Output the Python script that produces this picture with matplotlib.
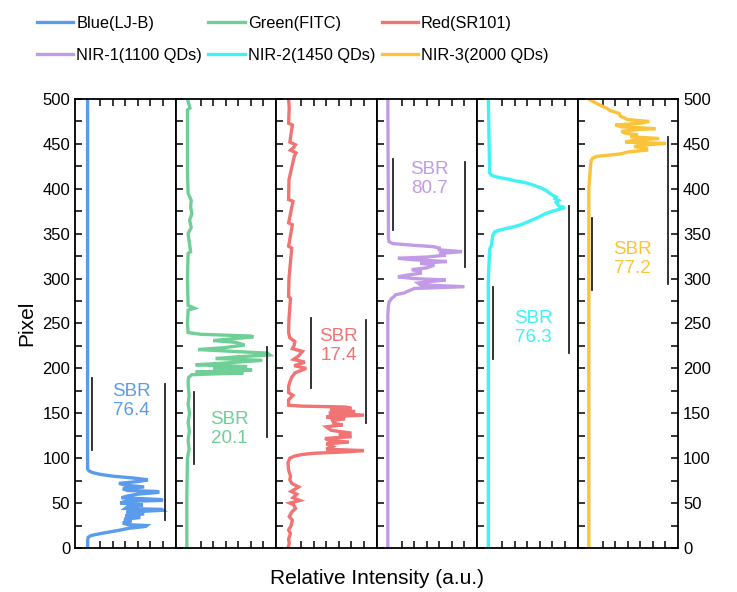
import matplotlib
matplotlib.use("Agg")
import matplotlib.pyplot as plt
from matplotlib.ticker import MultipleLocator, FixedLocator

plt.rcParams["font.family"] = ["Liberation Sans", "DejaVu Sans"]

# ── data: pixel position (y) and relative intensity (x) per channel ─────────
labels = ["Blue(LJ-B)", "Green(FITC)", "Red(SR101)",
          "NIR-1(1100 QDs)", "NIR-2(1450 QDs)", "NIR-3(2000 QDs)"]
colors = ["#5A9CEB", "#6FCF97", "#F27373", "#C19BE6", "#40F2F2", "#FAC33A"]
sbr_values = ["76.4", "20.1", "17.4", "80.7", "76.3", "77.2"]

blue_px = [0, 8, 12, 14, 16, 18, 20, 22, 24, 25, 26, 28, 30, 32, 34, 36, 38, 40,
           42, 43, 44, 46, 48, 50, 52, 53, 54, 56, 58, 60, 62, 63, 64, 66, 68,
           70, 72, 74, 76, 78, 80, 82, 84, 86, 88, 500]
blue_int = [1.0, 1.0, 1.05, 1.3, 2.0, 2.8, 3.6, 4.3, 5.6, 5.7, 4.2, 3.8, 4.5,
            3.9, 5.2, 4.0, 5.5, 4.1, 7.0, 6.9, 4.0, 4.2, 5.4, 3.6, 4.0, 7.0,
            6.8, 3.7, 4.2, 5.0, 6.7, 6.5, 4.2, 3.8, 5.5, 4.0, 3.5, 5.0, 5.8,
            4.6, 3.0, 2.0, 1.4, 1.1, 1.0, 1.0]

green_px = [0, 60, 100, 110, 120, 130, 140, 150, 160, 170, 180, 186, 190, 193,
            195, 196, 198, 200, 202, 204, 206, 209, 211, 213, 215, 217, 219,
            221, 223, 226, 229, 231, 233, 235, 236, 238, 240, 250, 265, 267,
            270, 300, 328, 330, 350, 357, 365, 372, 380, 387, 395, 420, 488,
            490, 500]
green_int = [0.9, 0.9, 0.95, 1.08, 1.0, 1.1, 1.0, 1.12, 1.0, 1.08, 1.02, 1.0,
             1.05, 1.3, 5.4, 1.6, 6.1, 3.0, 5.7, 1.6, 4.0, 6.9, 3.2, 5.0, 7.5,
             7.3, 4.5, 1.8, 3.8, 5.5, 4.8, 3.0, 4.5, 6.2, 6.0, 2.0, 1.0, 0.95,
             1.0, 1.5, 1.0, 0.95, 1.0, 1.2, 1.0, 1.25, 1.12, 1.3, 1.2, 1.25,
             1.0, 0.95, 0.95, 1.15, 0.95]

red_px = [0, 5, 10, 16, 20, 25, 31, 35, 40, 44, 48, 50, 53, 56, 60, 63, 68, 72,
          76, 80, 87, 95, 100, 102, 104, 105.5, 107, 108.5, 110, 113, 116, 118,
          120, 122, 124, 126, 128, 131, 135, 137, 139, 142, 144, 146, 148, 150,
          152, 154, 155.5, 157, 158, 159, 165, 170, 173, 180, 185, 190, 195,
          200, 203, 207, 210, 214, 219, 222, 226, 230, 234, 240, 255, 278, 280,
          300, 334, 336, 360, 362, 386, 388, 410, 436, 440, 443, 446, 449, 452,
          471, 473, 490, 500]
red_int = [0.95, 1.05, 1.0, 1.15, 1.0, 1.2, 1.3, 1.05, 1.25, 1.55, 1.4, 1.1,
           1.9, 1.35, 1.65, 1.2, 1.8, 1.25, 1.1, 1.15, 1.0, 0.95, 1.1, 1.4,
           2.0, 3.0, 5.5, 7.0, 4.0, 4.5, 4.0, 5.8, 4.2, 3.9, 6.0, 5.0, 6.0,
           4.4, 4.0, 5.3, 4.6, 4.5, 5.5, 4.0, 7.0, 4.2, 6.3, 4.3, 6.0, 5.5,
           2.0, 1.0, 1.0, 1.35, 1.0, 1.0, 1.1, 1.25, 1.5, 2.4, 1.45, 2.3, 1.4,
           1.8, 2.1, 1.3, 1.45, 1.5, 1.1, 1.0, 1.03, 1.15, 1.0, 1.03, 1.25,
           1.0, 1.3, 1.0, 1.35, 1.0, 1.03, 1.45, 1.6, 1.15, 1.4, 1.55, 1.1,
           1.3, 1.0, 1.05, 1.0]

nir1_px = [0, 260, 270, 274, 278, 280, 282, 284, 286, 289, 291, 293, 295, 297,
           298.5, 300, 302, 304, 306, 308, 310, 312, 315, 317, 319, 321, 322.6,
           324, 326, 328, 330, 332, 334, 335.6, 337, 339, 341, 345, 500]
nir1_int = [0.9, 0.9, 0.95, 1.0, 1.2, 1.4, 1.5, 2.2, 2.5, 3.0, 7.0, 3.5, 3.3,
            4.5, 5.5, 3.0, 1.7, 2.5, 3.5, 3.5, 2.8, 4.0, 4.6, 3.5, 5.6, 3.0,
            1.7, 4.0, 5.5, 5.0, 6.8, 5.0, 5.0, 4.5, 3.0, 1.3, 1.0, 0.95, 0.9]

nir2_px = [0, 300, 332, 338, 343, 348, 352, 354, 356, 358, 360, 363, 366, 369,
           372, 375, 377, 379, 381, 383, 385, 387, 389, 391, 393, 395, 398, 401,
           404, 407, 409, 411, 413, 415, 418, 500]
nir2_int = [0.9, 0.9, 1.0, 1.15, 1.2, 1.25, 1.4, 1.8, 2.4, 3.0, 3.5, 4.0, 4.5,
            5.0, 5.4, 6.0, 6.5, 7.0, 6.5, 6.4, 6.3, 6.5, 6.2, 6.3, 6.0, 5.8,
            5.5, 5.1, 4.5, 3.8, 3.0, 2.4, 1.6, 1.15, 1.0, 0.9]

nir3_px = [0, 400, 420, 428, 432, 434, 436, 437.5, 439, 441, 443, 445, 447,
           448.5, 450.5, 452, 454, 456, 458, 460, 462, 464, 466, 467, 469, 471,
           473, 475, 477, 479, 481, 484, 487, 490, 493, 496, 499, 500]
nir3_int = [0.9, 0.9, 1.0, 1.05, 1.1, 1.2, 1.5, 2.5, 3.5, 4.0, 5.5, 5.5, 4.5,
            5.0, 7.0, 3.8, 4.5, 6.5, 4.2, 4.8, 3.8, 3.5, 4.8, 6.2, 3.5, 3.0,
            5.0, 5.7, 4.0, 3.7, 3.4, 3.3, 2.6, 2.3, 1.8, 1.4, 1.0, 0.9]

pixels = [blue_px, green_px, red_px, nir1_px, nir2_px, nir3_px]
intensities = [blue_int, green_int, red_int, nir1_int, nir2_int, nir3_int]

# ── annotation layout: (left bar x, y0, y1), (right bar x, y0, y1), text x, y
brackets = [
    ((1.35, 109, 189), (7.2, 31, 183), (4.5, 164)),
    ((1.5, 94, 174), (7.3, 124, 224), (4.3, 132)),
    ((2.75, 178, 256), (7.2, 139, 254), (5.0, 225)),
    ((1.3, 354, 433), (7.05, 313, 430), (4.2, 411)),
    ((1.3, 211, 291), (7.3, 217, 381), (4.5, 245)),
    ((1.17, 287, 368), (7.2, 294, 458), (4.4, 322)),
]

fig = plt.figure(figsize=(7.37, 5.92), dpi=100)
left, right, bottom, top = 0.1018, 0.920, 0.0743, 0.8328
w = (right - left) / 6
axes = [fig.add_axes([left + i * w, bottom, w, top - bottom]) for i in range(6)]

handles = []
for i, ax in enumerate(axes):
    ln, = ax.plot(intensities[i], pixels[i], color=colors[i], lw=2.4,
                  solid_joinstyle="miter", label=labels[i])
    handles.append(ln)
    ax.set_xlim(0, 8)
    ax.set_ylim(0, 500)
    for sp in ax.spines.values():
        sp.set_linewidth(1.3)
    ax.xaxis.set_major_locator(FixedLocator([2, 3, 4, 5, 6, 7]))
    ax.tick_params(axis="x", direction="in", top=True, bottom=True,
                   labelbottom=False, length=5, width=1.1)
    ax.yaxis.set_major_locator(MultipleLocator(50))
    ax.yaxis.set_minor_locator(MultipleLocator(25))
    ax.tick_params(axis="y", which="both", direction="in", length=5,
                   width=1.1, labelsize=12, left=True, right=False,
                   labelleft=(i == 0))
    if i == 5:
        ax.tick_params(axis="y", which="both", right=True, labelright=True)

    (lx, ly0, ly1), (rx, ry0, ry1), (tx, ty) = brackets[i]
    ax.plot([lx, lx], [ly0, ly1], color="#222222", lw=1.3)
    ax.plot([rx, rx], [ry0, ry1], color="#222222", lw=1.3)
    ax.text(tx, ty, "SBR\n" + sbr_values[i], color=colors[i], fontsize=13.5,
            ha="center", va="center", linespacing=1.15)

axes[0].set_ylabel("Pixel", fontsize=15, labelpad=4)
fig.text((left + right) / 2, 0.022, "Relative Intensity (a.u.)",
         ha="center", va="center", fontsize=15)

# legend filled row by row (matplotlib fills columns first)
order = [0, 3, 1, 4, 2, 5]
fig.legend(handles=[handles[k] for k in order],
           labels=[labels[k] for k in order], ncol=3, loc="upper left",
           bbox_to_anchor=(0.03, 0.998), frameon=False, fontsize=11.8,
           handlelength=2.2, handletextpad=0.2, columnspacing=0.4,
           labelspacing=1.05)

fig.savefig("out.png", dpi=100)
